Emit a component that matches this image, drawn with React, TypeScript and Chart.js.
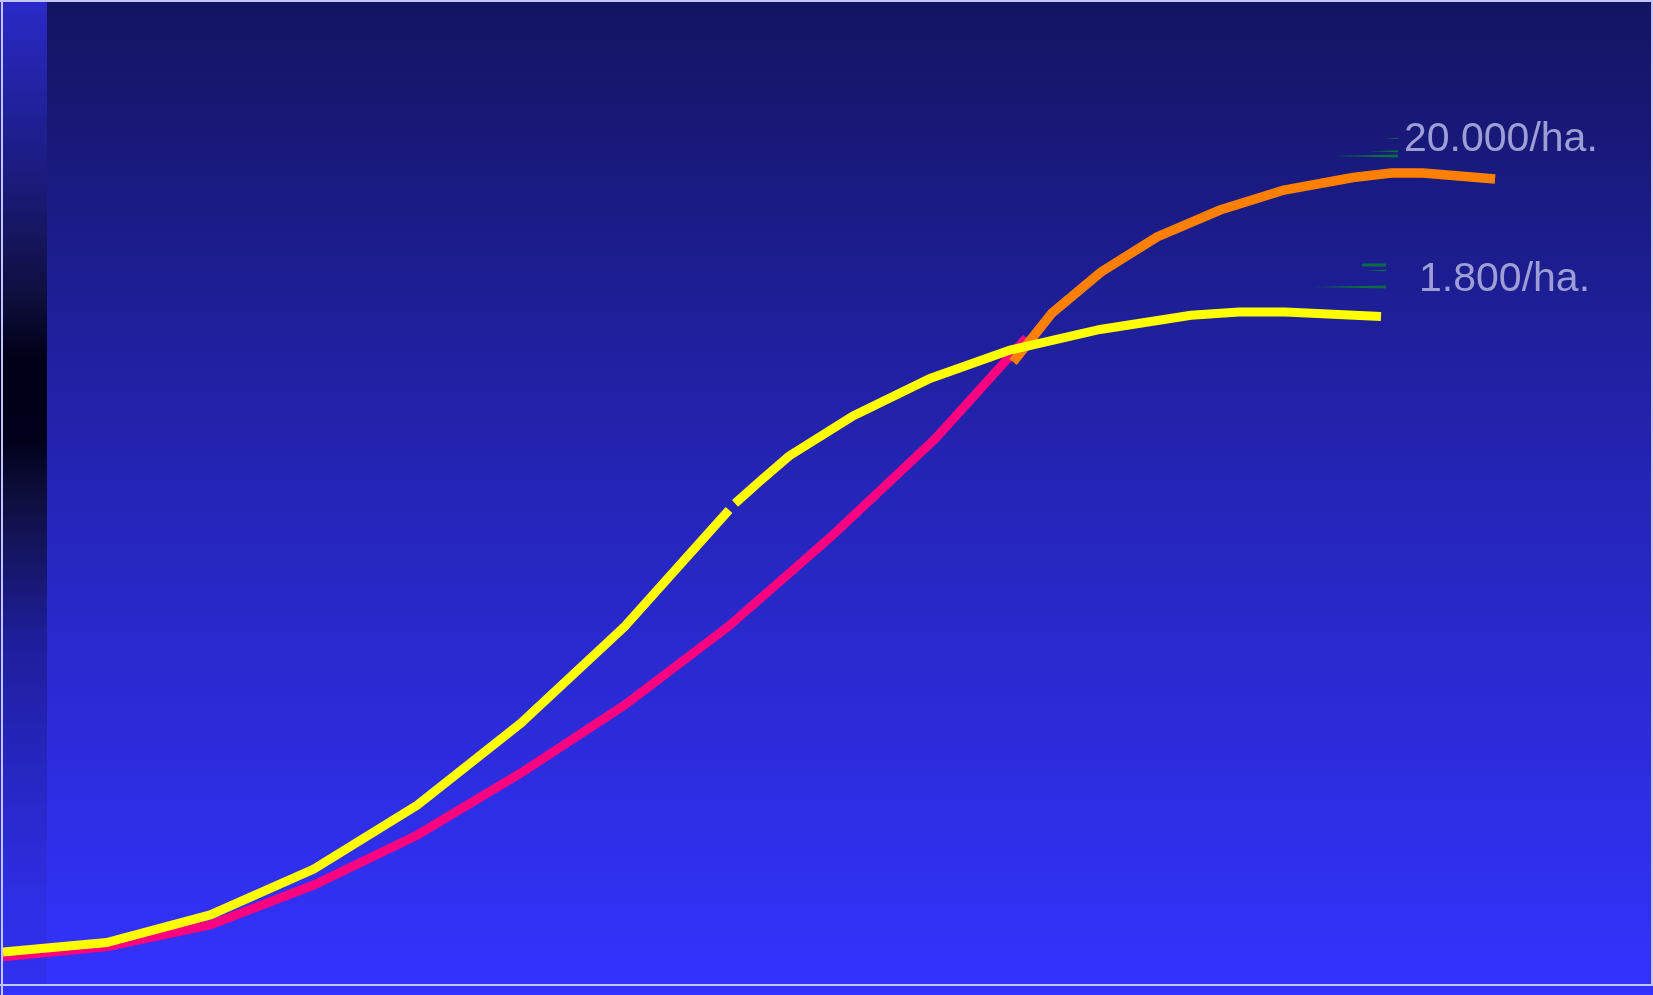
import { useEffect, useRef } from "react";
import { Chart, registerables } from "chart.js";

Chart.register(...registerables);

// x: years from planting, y: growth as % of the full scale
const pinkX = [0, 1, 2, 3, 4, 5, 6, 7, 8, 9, 9.88];
const pinkY = [2.98, 3.99, 6.2, 10.26, 15.35, 21.65, 28.56, 36.53, 45.73, 55.64, 65.87];

const orangeX = [9.749, 10.125, 10.598, 11.139, 11.747, 12.365, 13.031, 13.398, 13.707, 14.402];
const orangeY = [63.41, 68.39, 72.56, 76.12, 78.86, 80.89, 82.16, 82.62, 82.62, 82.01];

const yellowAX = [0, 1, 2, 3, 4, 5, 6, 7.008];
const yellowAY = [3.46, 4.42, 7.22, 11.89, 18.39, 26.73, 36.53, 48.37];

const yellowBX = [7.066, 7.297, 7.587, 8.205, 8.948, 9.72, 10.589, 11.467, 11.931, 12.375, 13.301];
const yellowBY = [49.04, 51.22, 53.86, 57.93, 61.74, 64.63, 66.72, 68.17, 68.5, 68.5, 68.04];

const labelTexts = ["20.000/ha.", "1.800/ha."];
const labelX = [13.523, 13.668];
const labelY = [84.86, 70.63];

const X_MAX = 15.907;

const toPoints = (xs: number[], ys: number[]) => xs.map((x, i) => ({ x, y: ys[i] }));

// small green tick strokes drawn next to each label: [x0, x1, y, thickness at x1, tapered]
const tickMarks: number[][][] = [
  [
    [-19, -6, -12.7, 1.2, 1],
    [-34, -6, 0.3, 2, 1],
    [-71, -6, 5, 3, 1],
  ],
  [
    [-57, -33, -26, 3, 0],
    [-54, -33, -20.5, 1.5, 1],
    [-107, -33, -4, 3.2, 1],
  ],
];

const backdrop = {
  id: "backdrop",
  beforeDraw(chart: any) {
    const { ctx, width, height } = chart;
    ctx.save();
    const g = ctx.createLinearGradient(0, 0, 0, height);
    g.addColorStop(0, "rgb(19,20,96)");
    g.addColorStop(0.5, "rgb(37,37,185)");
    g.addColorStop(1, "rgb(51,51,255)");
    ctx.fillStyle = g;
    ctx.fillRect(0, 0, width, height);

    // darker side strip
    const s = ctx.createLinearGradient(0, 0, 0, height);
    s.addColorStop(0, "rgb(42,42,200)");
    s.addColorStop(0.19, "rgb(26,26,120)");
    s.addColorStop(0.3, "rgb(14,14,60)");
    s.addColorStop(0.36, "rgb(0,0,24)");
    s.addColorStop(0.44, "rgb(0,0,26)");
    s.addColorStop(0.5, "rgb(14,14,62)");
    s.addColorStop(0.64, "rgb(30,30,154)");
    s.addColorStop(0.77, "rgb(38,38,192)");
    s.addColorStop(0.9, "rgb(46,46,228)");
    s.addColorStop(1, "rgb(48,48,240)");
    ctx.fillStyle = s;
    ctx.fillRect(0, 0, 47, 986);
    ctx.restore();
  },
  afterDatasetsDraw(chart: any) {
    const { ctx, width, height, scales } = chart;
    ctx.save();
    // frame
    ctx.strokeStyle = "#c4c4ff";
    ctx.lineWidth = 2;
    ctx.beginPath();
    ctx.moveTo(0, 1);
    ctx.lineTo(width, 1);
    ctx.moveTo(0, 985);
    ctx.lineTo(width, 985);
    ctx.moveTo(2, 0);
    ctx.lineTo(2, height);
    ctx.moveTo(width - 1, 0);
    ctx.lineTo(width - 1, 986);
    ctx.stroke();

    // labels with their green tick strokes
    ctx.font = '41px "Liberation Sans", Arial, sans-serif';
    ctx.textAlign = "left";
    ctx.textBaseline = "alphabetic";
    labelTexts.forEach((t, i) => {
      const px = scales.x.getPixelForValue(labelX[i]);
      const py = scales.y.getPixelForValue(labelY[i]);
      ctx.fillStyle = "#0b6e42";
      tickMarks[i].forEach(([x0, x1, y, h, taper]) => {
        ctx.beginPath();
        if (taper) {
          ctx.moveTo(px + x0, py + y);
          ctx.lineTo(px + x1, py + y - h / 2);
          ctx.lineTo(px + x1, py + y + h / 2);
        } else {
          ctx.rect(px + x0, py + y - h / 2, x1 - x0, h);
        }
        ctx.closePath();
        ctx.fill();
      });
      ctx.fillStyle = "#9e9ed6";
      ctx.fillText(t, px, py);
    });
    ctx.restore();
  },
};

export default function App() {
  const ref = useRef<HTMLCanvasElement>(null);

  useEffect(() => {
    if (!ref.current) return;
    const line = (data: any, color: string, w: number, order: number) => ({
      data,
      borderColor: color,
      backgroundColor: color,
      borderWidth: w,
      pointRadius: 0,
      tension: 0,
      fill: false,
      borderJoinStyle: "miter" as const,
      borderCapStyle: "butt" as const,
      order,
    });
    const chart = new Chart(ref.current, {
      type: "line",
      data: {
        datasets: [
          line(toPoints(pinkX, pinkY), "#ff0080", 9, 3),
          line(toPoints(orangeX, orangeY), "#ff8000", 9.5, 2),
          line(toPoints(yellowAX, yellowAY), "#ffff00", 9, 1),
          line(toPoints(yellowBX, yellowBY), "#ffff00", 9, 1),
        ],
      },
      options: {
        animation: false,
        responsive: false,
        devicePixelRatio: 1,
        events: [],
        layout: { padding: { left: 3, right: 2, top: 2, bottom: 9 } },
        plugins: { legend: { display: false }, tooltip: { enabled: false } },
        scales: {
          x: { type: "linear", min: 0, max: X_MAX, display: false },
          y: { type: "linear", min: 0, max: 100, display: false },
        },
      },
      plugins: [backdrop],
    });
    return () => chart.destroy();
  }, []);

  return (
    <div style={{ position: "fixed", left: 0, top: 0, width: 1653, height: 995 }}>
      <canvas ref={ref} width={1653} height={995} style={{ display: "block" }} />
    </div>
  );
}
